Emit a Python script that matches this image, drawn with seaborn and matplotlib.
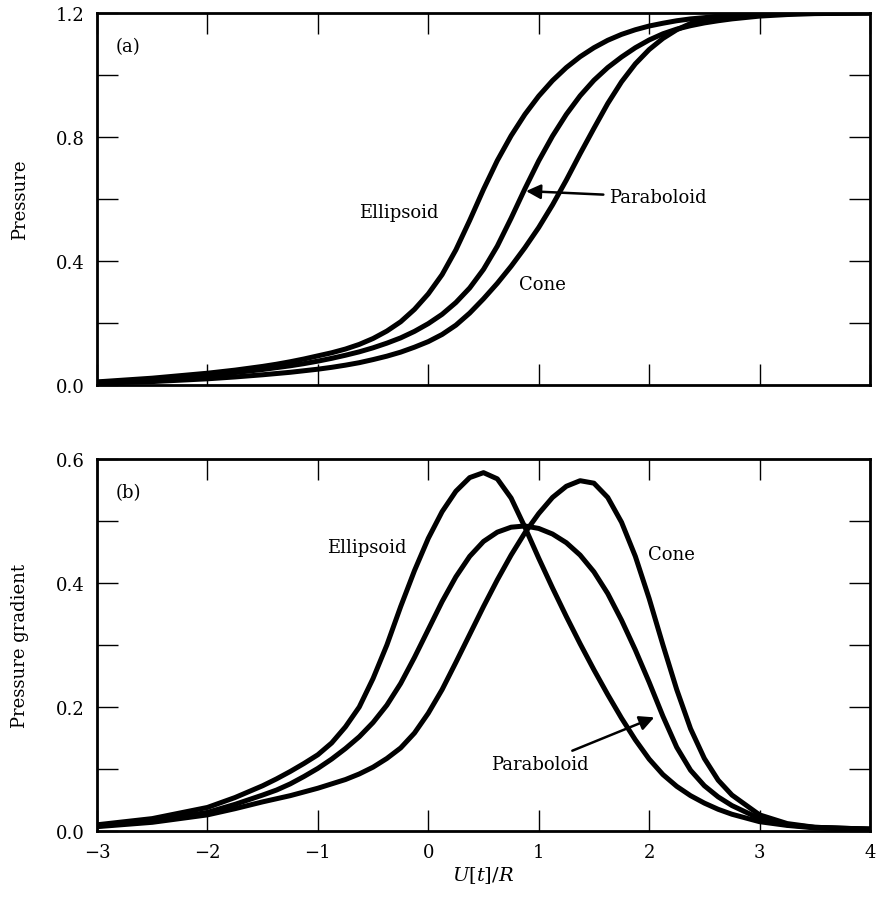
import matplotlib
matplotlib.use("Agg")
import matplotlib.pyplot as plt
from matplotlib.ticker import MultipleLocator
import seaborn as sns

x_vals = [-3, -2.5, -2, -1.75, -1.5, -1.375, -1.25, -1.125, -1, -0.875, -0.75, -0.625, -0.5, -0.375, -0.25, -0.125,
          0, 0.125, 0.25, 0.375, 0.5, 0.625, 0.75, 0.875, 1.0, 1.125, 1.25, 1.375, 1.5,
          1.625, 1.75, 1.875, 2.0, 2.125, 2.25, 2.375, 2.5, 2.625, 2.75, 3.0, 3.25, 3.5, 4.0]

# (a) pressure
pres_ellipsoid = [0.010, 0.022, 0.038, 0.048, 0.060, 0.067, 0.075, 0.084, 0.094, 0.104, 0.116, 0.131, 0.150, 0.174, 0.204, 0.244,
                  0.294, 0.356, 0.436, 0.531, 0.631, 0.724, 0.804, 0.873, 0.932, 0.982, 1.024, 1.059, 1.088,
                  1.112, 1.131, 1.146, 1.158, 1.167, 1.175, 1.181, 1.185, 1.189, 1.193, 1.196, 1.198, 1.199, 1.200]
pres_paraboloid = [0.008, 0.018, 0.032, 0.040, 0.050, 0.056, 0.062, 0.069, 0.077, 0.086, 0.096, 0.107, 0.120, 0.135, 0.152, 0.173,
                   0.198, 0.228, 0.266, 0.313, 0.373, 0.448, 0.538, 0.633, 0.723, 0.803, 0.873, 0.933, 0.983,
                   1.024, 1.058, 1.088, 1.113, 1.133, 1.148, 1.159, 1.168, 1.175, 1.181, 1.190, 1.195, 1.198, 1.200]
pres_cone = [0.006, 0.011, 0.020, 0.026, 0.033, 0.037, 0.041, 0.046, 0.051, 0.057, 0.064, 0.072, 0.082, 0.093, 0.106, 0.122,
             0.140, 0.163, 0.193, 0.232, 0.278, 0.328, 0.383, 0.443, 0.508, 0.581, 0.661, 0.746, 0.828,
             0.908, 0.978, 1.036, 1.082, 1.118, 1.146, 1.166, 1.181, 1.190, 1.195, 1.198, 1.199, 1.200, 1.200]

# (b) pressure gradient
grad_ellipsoid = [0.010, 0.020, 0.038, 0.054, 0.073, 0.084, 0.096, 0.109, 0.123, 0.142, 0.168, 0.200, 0.246, 0.300, 0.362, 0.420,
                  0.472, 0.515, 0.548, 0.570, 0.578, 0.568, 0.537, 0.490, 0.440, 0.392, 0.346, 0.302, 0.260,
                  0.220, 0.182, 0.147, 0.116, 0.091, 0.072, 0.057, 0.045, 0.035, 0.027, 0.015, 0.009, 0.005, 0.003]
grad_paraboloid = [0.008, 0.016, 0.030, 0.043, 0.058, 0.066, 0.076, 0.088, 0.101, 0.116, 0.133, 0.152, 0.175, 0.203, 0.238, 0.280,
                   0.325, 0.370, 0.410, 0.443, 0.467, 0.482, 0.490, 0.492, 0.488, 0.479, 0.465, 0.445, 0.418,
                   0.383, 0.340, 0.292, 0.240, 0.185, 0.135, 0.098, 0.073, 0.055, 0.041, 0.020, 0.010, 0.006, 0.003]
grad_cone = [0.007, 0.014, 0.026, 0.036, 0.047, 0.052, 0.057, 0.063, 0.069, 0.076, 0.083, 0.092, 0.103, 0.117, 0.134, 0.158,
             0.190, 0.228, 0.272, 0.317, 0.362, 0.405, 0.445, 0.481, 0.512, 0.538, 0.556, 0.565, 0.561,
             0.538, 0.498, 0.443, 0.375, 0.300, 0.228, 0.165, 0.117, 0.082, 0.058, 0.026, 0.012, 0.006, 0.003]

sns.set_style("ticks")
plt.rcParams["font.family"] = ["DejaVu Serif"]
plt.rcParams["mathtext.fontset"] = "dejavuserif"
plt.rcParams["text.color"] = "black"
plt.rcParams["axes.labelcolor"] = "black"

fig = plt.figure(figsize=(8.76, 9.03), dpi=100)
ax_a = fig.add_axes([97 / 876, 1 - 386 / 903, 773 / 876, 372 / 903])
ax_b = fig.add_axes([97 / 876, 1 - 832 / 903, 773 / 876, 372 / 903])

def draw_panel(ax, series, ymax, major, minor):
    for vals in series:
        sns.lineplot(x=x_vals, y=vals, ax=ax, color="black", lw=3.6,
                     solid_capstyle="butt", solid_joinstyle="round")
    ax.set_xlim(-3, 4)
    ax.set_ylim(0, ymax)
    ax.xaxis.set_major_locator(MultipleLocator(1))
    ax.yaxis.set_major_locator(MultipleLocator(major))
    ax.yaxis.set_minor_locator(MultipleLocator(minor))
    ax.tick_params(which="both", direction="in", top=True, right=True,
                   length=15, width=1.0, labelsize=13, pad=9, colors="black")
    for s in ax.spines.values():
        s.set_linewidth(2.0)
        s.set_color("black")
    ax.yaxis.set_major_formatter(plt.FormatStrFormatter("%.1f"))

draw_panel(ax_a, [pres_ellipsoid, pres_paraboloid, pres_cone], 1.2, 0.4, 0.2)
draw_panel(ax_b, [grad_ellipsoid, grad_paraboloid, grad_cone], 0.6, 0.2, 0.1)

ax_a.tick_params(labelbottom=False)
ax_a.set_ylabel("Pressure", fontsize=13, labelpad=19)
ax_b.set_ylabel("Pressure gradient", fontsize=13, labelpad=19)
ax_b.set_xlabel("$U[t]/R$", fontsize=14, labelpad=2)

fs = 13
arrow = dict(arrowstyle="-|>", color="black", lw=1.8, mutation_scale=22)

ax_a.text(-2.83, 1.094, "(a)", fontsize=fs, va="center", ha="left")
ax_a.text(-0.27, 0.558, "Ellipsoid", fontsize=fs, va="center", ha="center")
ax_a.text(1.03, 0.326, "Cone", fontsize=fs, va="center", ha="center")
ax_a.annotate("Paraboloid", xy=(0.86, 0.626), xytext=(1.64, 0.606), fontsize=fs,
              va="center", ha="left", arrowprops=arrow)

ax_b.text(-2.83, 0.547, "(b)", fontsize=fs, va="center", ha="left")
ax_b.text(-0.2, 0.458, "Ellipsoid", fontsize=fs, va="center", ha="right")
ax_b.text(2.2, 0.447, "Cone", fontsize=fs, va="center", ha="center")
ax_b.annotate("Paraboloid", xy=(2.07, 0.185), xytext=(1.45, 0.108), fontsize=fs,
              va="center", ha="right", arrowprops=arrow)

fig.savefig("out.png", dpi=100)
